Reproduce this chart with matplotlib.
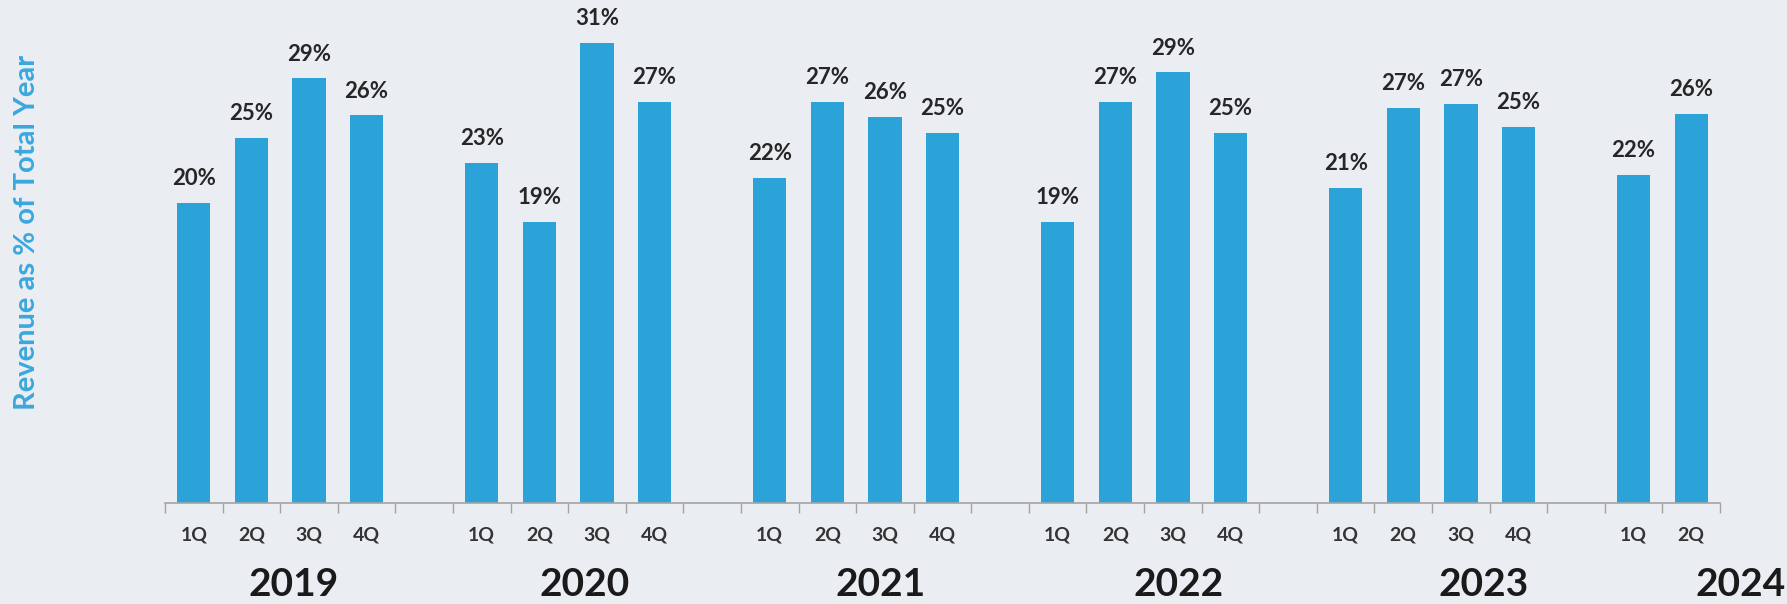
import matplotlib
matplotlib.use("Agg")
import matplotlib.pyplot as plt
import matplotlib.transforms as mtransforms
import numpy as np

# ---- data ----
years = ["2019", "2020", "2021", "2022", "2023", "2024"]
quarters = ["1Q", "2Q", "3Q", "4Q"]
share_2019 = [20.3, 24.7, 28.7, 26.2]
share_2020 = [23.0, 19.0, 31.1, 27.1]
share_2021 = [22.0, 27.1, 26.1, 25.0]
share_2022 = [19.0, 27.1, 29.1, 25.0]
share_2023 = [21.3, 26.7, 27.0, 25.4]
share_2024 = [22.2, 26.3]
y_label = "Revenue as % of Total Year"

series = [share_2019, share_2020, share_2021, share_2022, share_2023, share_2024]

# ---- style ----
BG = "#eaedf2"
BAR = "#2ba3d8"
YLAB = "#39a8de"
TXT = "#262626"
AX = "#a3a3a3"
FONT = ["Lato", "DejaVu Sans"]

W, H, DPI = 1787, 604, 100
fig = plt.figure(figsize=(W / DPI, H / DPI), dpi=DPI, facecolor=BG)
ax = fig.add_axes([165 / W, (H - 503) / H, (1720 - 165) / W, 503 / H])
ax.set_facecolor(BG)

# build slot positions: 4 quarters + 1 gap per year
xs, vals, qlabs = [], [], []
pos = 0
for yi, s in enumerate(series):
    for qi, v in enumerate(s):
        xs.append(pos)
        vals.append(v)
        qlabs.append(quarters[qi])
        pos += 1
    pos += 1
n_slots = pos - 1  # no trailing gap

ax.bar(xs, vals, width=0.58, color=BAR, zorder=2)
for x, v in zip(xs, vals):
    ax.annotate(f"{round(v)}%", (x, v), xytext=(0, 10), textcoords="offset points",
                ha="center", va="bottom", fontsize=16, fontweight="bold",
                color=TXT, family=FONT)

ax.set_xlim(-0.5, n_slots - 0.5)
ax.set_ylim(0, 34.0)

for sp in ["top", "right", "left"]:
    ax.spines[sp].set_visible(False)
ax.spines["bottom"].set_color(AX)
ax.spines["bottom"].set_linewidth(1.2)
ax.set_yticks([])

ax.set_xticks(np.arange(-0.5, n_slots, 1.0))
ax.set_xticklabels([])
ax.tick_params(axis="x", which="major", length=7, color=AX, width=1.0)
ax.set_xticks(xs, minor=True)
ax.set_xticklabels(qlabs, minor=True, fontsize=14, fontweight="bold",
                   color="#333333", family=FONT)
ax.tick_params(axis="x", which="minor", length=0, pad=17)

# year labels (hand-placed in original, offset to the right)
year_offsets = [1.74, 6.79, 11.93, 17.1, 22.4, 26.85]
trans = mtransforms.blended_transform_factory(ax.transData, fig.transFigure)
for yr, xo in zip(years, year_offsets):
    fig.text(xo, (H - 584) / H, yr, transform=trans, ha="center", va="center",
             fontsize=28, fontweight="bold", color="#1a1a1a", family=FONT)

fig.text(27.5 / W, (H - 232) / H, y_label, rotation=90, ha="center", va="center",
         fontsize=21, fontweight="bold", color=YLAB, family=FONT)

fig.savefig("out.png", dpi=DPI, facecolor=BG)
